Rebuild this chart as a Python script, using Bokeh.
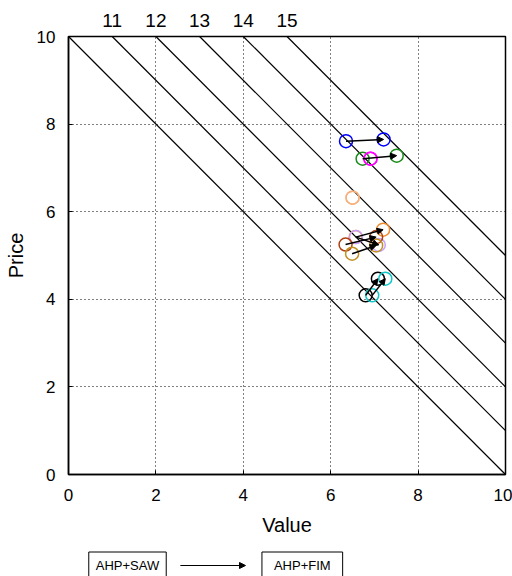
from bokeh.plotting import figure
from bokeh.models import (Range1d, LinearAxis, FixedTicker, Arrow, NormalHead,
                          Label, ColumnDataSource)
from bokeh.layouts import column
from bokeh.embed import file_html
from bokeh.resources import INLINE

# iso-sum lines: value + price = level
iso_levels = [10, 11, 12, 13, 14, 15]
iso_labels = ["11", "12", "13", "14", "15"]

# each alternative: position under AHP+SAW and under AHP+FIM
colors = ["#0000ff", "#1a8c1a", "#ff00ff", "#f7b07a", "#f08c30",
          "#c8a0ff", "#b04010", "#c09020", "#000000", "#10c8c8"]
saw_value = [6.35, 6.73, 6.91, 6.50, 6.57, 6.58, 6.34, 6.49, 6.80, 6.95]
saw_price = [7.61, 7.21, 7.21, 6.32, 5.42, 5.42, 5.25, 5.04, 4.09, 4.09]
fim_value = [7.21, 7.51, 6.91, 6.50, 7.20, 7.10, 7.04, 7.04, 7.08, 7.25]
fim_price = [7.65, 7.28, 7.21, 6.32, 5.59, 5.24, 5.42, 5.23, 4.47, 4.47]

x_ticks = [0, 2, 4, 6, 8, 10]
y_ticks = [0, 2, 4, 6, 8, 10]
methods = ["AHP+SAW", "AHP+FIM"]

FONT = "Liberation Sans"

p = figure(width=512, height=540, output_backend="svg", toolbar_location=None,
           x_range=Range1d(0, 10), y_range=Range1d(0, 10),
           frame_width=437, frame_height=438,
           min_border_left=68, min_border_right=7, min_border_top=36,
           min_border_bottom=66, x_axis_label="Value", y_axis_label="Price")
p.outline_line_color = "black"
p.outline_line_width = 1.5

for ax in (p.xaxis[0], p.yaxis[0]):
    ax.ticker = FixedTicker(ticks=x_ticks)
    ax.axis_line_color = "black"
    ax.axis_line_width = 1.5
    ax.major_tick_in = 4
    ax.major_tick_out = 0
    ax.minor_tick_line_color = None
    ax.major_label_text_font = FONT
    ax.major_label_text_font_size = "17px"
    ax.major_label_text_color = "black"
    ax.axis_label_text_font = FONT
    ax.axis_label_text_font_size = "20px"
    ax.axis_label_text_font_style = "normal"
    ax.axis_label_text_color = "black"
p.yaxis[0].ticker = FixedTicker(ticks=y_ticks)
p.xaxis[0].major_label_standoff = 14
p.xaxis[0].axis_label_standoff = 10
p.yaxis[0].major_label_standoff = 13
p.yaxis[0].axis_label_standoff = 7

for g in (p.xgrid[0], p.ygrid[0]):
    g.grid_line_color = "black"
    g.grid_line_dash = "1 3"
    g.grid_line_width = 1
p.xgrid[0].ticker = FixedTicker(ticks=x_ticks[1:-1])
p.ygrid[0].ticker = FixedTicker(ticks=y_ticks[1:-1])

# level labels along the top edge
top = LinearAxis(ticker=FixedTicker(ticks=[lv - 10 for lv in iso_levels[1:]]),
                 major_label_overrides={lv - 10: t for lv, t in zip(iso_levels[1:], iso_labels)},
                 axis_line_color=None, major_tick_line_color=None,
                 minor_tick_line_color=None, major_label_standoff=4,
                 major_label_text_font=FONT, major_label_text_font_size="19px",
                 major_label_text_color="black")
p.add_layout(top, "above")

# iso-sum lines
xs = [[lv - 10, 10] for lv in iso_levels]
ys = [[10, lv - 10] for lv in iso_levels]
p.multi_line(xs, ys, line_color="black", line_width=1.2)

# arrows from AHP+SAW to AHP+FIM
for x0, y0, x1, y1 in zip(saw_value, saw_price, fim_value, fim_price):
    if (x0, y0) == (x1, y1):
        continue
    p.add_layout(Arrow(x_start=x0, y_start=y0, x_end=x1, y_end=y1,
                       line_color="black", line_width=1.5,
                       end=NormalHead(size=6, fill_color="black", line_color="black")))

src = ColumnDataSource(dict(sx=saw_value, sy=saw_price, fx=fim_value,
                            fy=fim_price, c=colors))
p.scatter("sx", "sy", source=src, size=13, fill_color=None, line_color="c",
          line_width=1.5)
p.scatter("fx", "fy", source=src, size=13, fill_color=None, line_color="c",
          line_width=1.5)

# method key strip below the chart, sharing the chart's horizontal scale
key = figure(width=512, height=36, output_backend="svg", toolbar_location=None,
             x_range=Range1d(0, 10), y_range=Range1d(0, 36),
             min_border_left=68, min_border_right=7, min_border_top=0,
             min_border_bottom=0, frame_width=437, frame_height=36)
key.axis.visible = False
key.grid.visible = False
key.outline_line_color = None
for cx, name, pad_x in zip([1.35, 5.35], methods, [7, 12]):
    key.add_layout(Label(x=cx, y=11, text=name, text_align="center",
                         text_baseline="middle", text_font=FONT,
                         text_font_size="13px", text_color="black",
                         border_line_color="black", border_line_width=1,
                         background_fill_color="white",
                         padding=dict(left=pad_x, right=pad_x, top=6, bottom=6)))
key.add_layout(Arrow(x_start=2.56, y_start=11, x_end=4.05, y_end=11,
                     line_color="black", line_width=1,
                     end=NormalHead(size=6, fill_color="black", line_color="black")))

open("out.html", "w").write(file_html(column(p, key, spacing=0), INLINE))
